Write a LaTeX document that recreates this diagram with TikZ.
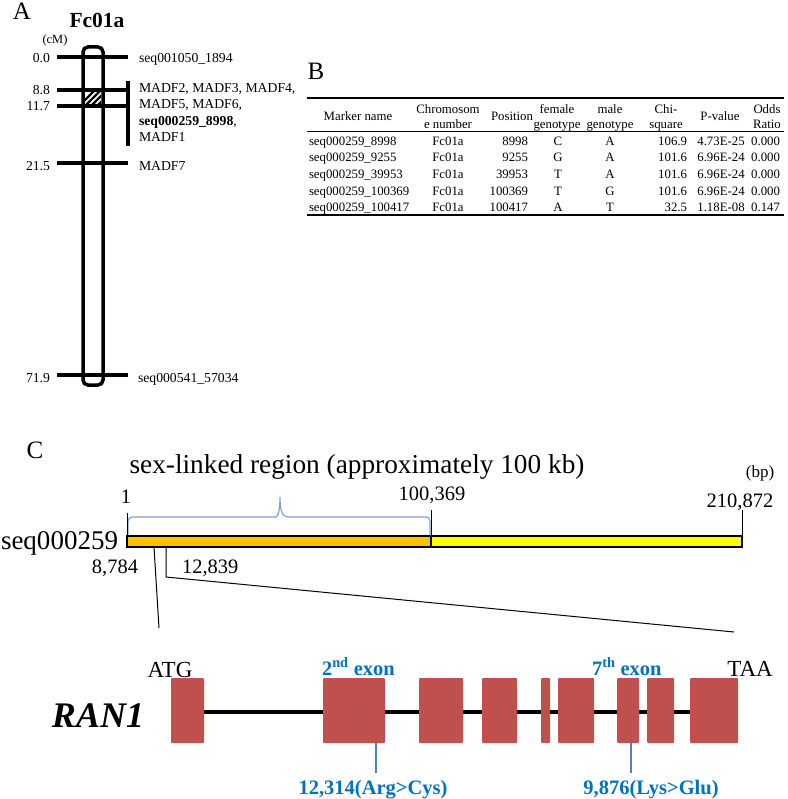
\documentclass[tikz,border=0pt]{standalone}
\usepackage{fontspec}
\setmainfont{Liberation Serif}
\definecolor{exonred}{HTML}{C0504D}
\definecolor{bluetext}{HTML}{0070C0}
\definecolor{blueline}{HTML}{4F81BD}
\definecolor{bracecol}{HTML}{7BA3D6}
\definecolor{orangebar}{HTML}{FFC000}
\definecolor{yellowbar}{HTML}{FFFF00}
\begin{document}
\begin{tikzpicture}[x=1pt,y=-1pt,
  every node/.style={inner sep=0pt, outer sep=0pt},
  panel/.style={font=\fontsize{25}{30}\selectfont, anchor=base},
  atxt/.style={font=\fontsize{13.7}{16.3}\selectfont, anchor=base west},
  acm/.style={font=\fontsize{13.7}{16}\selectfont, anchor=base east},
  tb/.style={font=\fontsize{12.8}{15.5}\selectfont, anchor=base},
  chromtick/.style={line width=3.5pt},
  rulethick/.style={line width=1.2pt},
  rulethin/.style={line width=0.8pt},
  ctxt/.style={font=\fontsize{20.5}{24}\selectfont, anchor=base},
  exon/.style={fill=exonred, draw=none, rounded corners=1pt},
  mut/.style={draw=blueline, line width=1.8pt},
  bluelab/.style={text=bluetext, font=\bfseries\fontsize{20.5}{24}\selectfont, anchor=base},
]
\useasboundingbox (0,0) rectangle (787,799);

% ---------------- Panel A ----------------
\node[panel] (labA) at (22,19.5) {A};
\node[font=\bfseries\fontsize{21.5}{24}\selectfont, anchor=base] (chrname) at (97,28) {Fc01a};
\node[font=\fontsize{12.5}{14}\selectfont, anchor=base] (unit) at (55,44) {(cM)};

\node[draw, line width=3.5pt, rounded corners=5pt, minimum width=20pt, minimum height=338pt] (chrom) at (93,216) {};
\foreach \yy in {57,90,106,163,375}
  \draw[chromtick] (57,\yy) -- (128,\yy);
\draw[chromtick] (128,81) -- (128,146);
\begin{scope}
  \clip (85,91.5) rectangle (101,104.5);
  \foreach \d in {-6,0,6,12}
    \draw[line width=2.2pt] (85+\d,106) -- (101+\d,90);
\end{scope}

\node[acm] (cm0) at (50,63) {0.0};
\node[acm] (cm1) at (50,95) {8.8};
\node[acm] (cm2) at (50,111) {11.7};
\node[acm] (cm3) at (50,171) {21.5};
\node[acm] (cm4) at (50,382) {71.9};

\node[atxt] (mk0) at (139,63) {seq001050\_1894};
\node[atxt] (mk1) at (139,93) {MADF2, MADF3, MADF4,};
\node[atxt] (mk2) at (139,109) {MADF5, MADF6,};
\node[atxt] (mk3) at (139,126) {\textbf{seq000259\_8998},};
\node[atxt] (mk4) at (139,142) {MADF1};
\node[atxt] (mk5) at (139,171) {MADF7};
\node[atxt] (mk6) at (138,382) {seq000541\_57034};

% ---------------- Panel B ----------------
\node[panel] (labB) at (316,80) {B};
\draw[rulethick] (307,98) -- (784,98);
\draw[rulethin] (307,131) -- (784,131);
\draw[rulethick] (307,215) -- (784,215);

\node[tb] (h1) at (358,121) {Marker name};
\node[tb] (h2a) at (448,114) {Chromosom};
\node[tb] (h2b) at (448,129) {e number};
\node[tb] (h3) at (512,121) {Position};
\node[tb] (h4a) at (557,114) {female};
\node[tb] (h4b) at (557,129) {genotype};
\node[tb] (h5a) at (610,114) {male};
\node[tb] (h5b) at (610,129) {genotype};
\node[tb] (h6a) at (666,114) {Chi-};
\node[tb] (h6b) at (666,129) {square};
\node[tb] (h7) at (720,121) {P-value};
\node[tb] (h8a) at (767,114) {Odds};
\node[tb] (h8b) at (767,129) {Ratio};

\foreach \mk/\ps/\fg/\mg/\cs/\pv/\od/\yy [count=\i] in {
  seq000259\_8998/8998/C/A/106.9/4.73E-25/0.000/146,
  seq000259\_9255/9255/G/A/101.6/6.96E-24/0.000/162,
  seq000259\_39953/39953/T/A/101.6/6.96E-24/0.000/179,
  seq000259\_100369/100369/T/G/101.6/6.96E-24/0.000/196,
  seq000259\_100417/100417/A/T/32.5/1.18E-08/0.147/212}{
  \node[tb, anchor=base west] (r\i c1) at (309,\yy) {\mk};
  \node[tb] (r\i c2) at (448,\yy) {Fc01a};
  \node[tb, anchor=base east] (r\i c3) at (528,\yy) {\ps};
  \node[tb] (r\i c4) at (558,\yy) {\fg};
  \node[tb] (r\i c5) at (610,\yy) {\mg};
  \node[tb, anchor=base east] (r\i c6) at (687,\yy) {\cs};
  \node[tb] (r\i c7) at (721,\yy) {\pv};
  \node[tb, anchor=base east] (r\i c8) at (780,\yy) {\od};
}

% ---------------- Panel C ----------------
\node[panel] (labC) at (35,458) {C};
\node[font=\fontsize{27.3}{30}\selectfont, anchor=base] (region) at (357,473) {sex-linked region (approximately 100 kb)};
\node[font=\fontsize{17}{20}\selectfont, anchor=base] (bp) at (760,477) {(bp)};
\node[ctxt] (p1) at (126,503) {1};
\node[ctxt] (p100) at (432,500) {100,369};
\node[ctxt] (p210) at (740,507) {210,872};
\node[font=\fontsize{27}{30}\selectfont, anchor=base east] (seqname) at (118,549) {seq000259};
\node[ctxt, anchor=base east] (p8784) at (138,573) {8,784};
\node[ctxt, anchor=base west] (p12839) at (182,573) {12,839};

% brace
\draw[bracecol, line width=1.2pt, rounded corners=4pt]
  (128,535) -- (128,517) -- (272,517) [sharp corners]
  .. controls (278,517) and (280,510) .. (280,497)
  .. controls (280,510) and (282,517) .. (288,517) [rounded corners=4pt]
  -- (430,517) -- (430,535);

% ticks
\draw[line width=1pt] (127,513) -- (127,536);
\draw[line width=1pt] (431,510) -- (431,536);
\draw[line width=1pt] (742,510) -- (742,536);

% bar
\fill[orangebar] (127,536) rectangle (431,547);
\fill[yellowbar] (431,536) rectangle (742,547);
\draw[line width=2.5pt] (127,536) rectangle (742,547);
\draw[line width=2pt] (431,536) -- (431,547);

% zoom lines
\coordinate (z1) at (154,547);
\coordinate (z1b) at (159,628);
\coordinate (z2) at (166,547);
\coordinate (z2m) at (166,577);
\coordinate (z2b) at (734,632);
\draw[line width=1pt] (z1) -- (z1b);
\draw[line width=1pt] (z2) -- (z2m) -- (z2b);

% gene
\draw[line width=4pt] (204,712) -- (690,712);
\foreach \a/\b [count=\i] in {171/204, 323/385, 419/463, 482/517, 541/550, 558/594, 617/639, 647/674, 690/738}
  \node[exon, minimum width={(\b-\a)*1pt}, minimum height=65pt] (e\i) at ({(\a+\b)/2},710.5) {};

\node[font=\fontsize{23}{26}\selectfont, anchor=base] (atg) at (170,677) {ATG};
\node[font=\fontsize{23}{26}\selectfont, anchor=base] (taa) at (750,676) {TAA};
\node[font=\bfseries\itshape\fontsize{36}{40}\selectfont, anchor=base] (ran) at (98,727) {RAN1};

\node[bluelab, anchor=base west] (x2) at (322,675) {2\textsuperscript{nd} exon};
\node[bluelab, anchor=base west] (x7) at (592,675) {7\textsuperscript{th} exon};

\coordinate (mut1) at (376,773);
\coordinate (mut2) at (631,773);
\draw[mut] (e2.south -| mut1) -- (mut1);
\draw[mut] (e7.south -| mut2) -- (mut2);
\node[bluelab] (mlab1) at (373,794) {12,314(Arg>Cys)};
\node[bluelab] (mlab2) at (651,794) {9,876(Lys>Glu)};
\end{tikzpicture}
\end{document}
